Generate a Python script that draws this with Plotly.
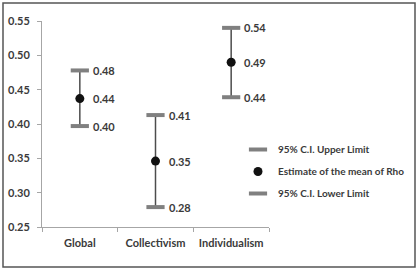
import plotly.graph_objects as go

categories = ["Global", "Collectivism", "Individualism"]
upper = [0.478, 0.413, 0.540]
mean = [0.437, 0.346, 0.490]
lower = [0.397, 0.279, 0.439]
upper_labels = ["0.48", "0.41", "0.54"]
mean_labels = ["0.44", "0.35", "0.49"]
lower_labels = ["0.40", "0.28", "0.44"]
yticks = [0.25, 0.30, 0.35, 0.40, 0.45, 0.50, 0.55]

FONT = "Lato"
TXT = "#3a3a3a"
GRAY = "#808080"
FS = 11

fig = go.Figure()

# high-low lines
fig.add_trace(go.Scatter(
    x=categories, y=mean, mode="markers",
    marker=dict(size=1, color="rgba(0,0,0,0)"),
    error_y=dict(type="data", symmetric=False,
                 array=[u - m for u, m in zip(upper, mean)],
                 arrayminus=[m - l for m, l in zip(mean, lower)],
                 width=0, thickness=1.5, color="#4d4d4d"),
    showlegend=False, hoverinfo="skip"))

fig.add_trace(go.Scatter(
    x=categories, y=upper, mode="markers", name="95% C.I. Upper Limit",
    legendgroup="u",
    marker=dict(symbol="line-ew", size=13, line=dict(width=4, color=GRAY), color=GRAY)))

fig.add_trace(go.Scatter(
    x=categories, y=mean, mode="markers", name="Estimate of the mean of Rho",
    legendgroup="m",
    marker=dict(symbol="circle", size=9, color="#111111")))

fig.add_trace(go.Scatter(
    x=categories, y=lower, mode="markers", name="95% C.I. Lower Limit",
    legendgroup="l",
    marker=dict(symbol="line-ew", size=13, line=dict(width=4, color=GRAY), color=GRAY)))

for vals, labs in ((upper, upper_labels), (mean, mean_labels), (lower, lower_labels)):
    for c, v, t in zip(categories, vals, labs):
        fig.add_annotation(x=c, y=v, text=t, showarrow=False, xanchor="left",
                           xshift=11, yshift=0,
                           font=dict(family=FONT, size=FS, color=TXT, weight="bold"))

pw, ph = 227, 206
fig.add_shape(type="rect", xref="paper", yref="paper",
              x0=(3 - 42) / pw, x1=(415 - 42) / pw,
              y0=(227 - 267) / ph, y1=(227 - 3) / ph,
              line=dict(color="#555555", width=1.5), layer="below")

fig.update_layout(
    width=420, height=272,
    margin=dict(l=42, r=151, t=21, b=45, autoexpand=False),
    paper_bgcolor="white", plot_bgcolor="white",
    font=dict(family=FONT, size=FS, color=TXT, weight="bold"),
    showlegend=True,
    legend=dict(x=(238 - 42) / pw, xanchor="left", y=(227 - 135) / ph, yanchor="top",
                bgcolor="rgba(0,0,0,0)", traceorder="grouped", tracegroupgap=3,
                font=dict(family=FONT, size=10, color=TXT, weight="bold")),
    xaxis=dict(type="category", range=[-0.5, 2.5], showgrid=False, automargin=False,
               showline=True, linecolor="#a6a6a6", linewidth=1,
               ticks="outside", tickson="boundaries", ticklen=4, tickcolor="#a6a6a6",
               ticklabelstandoff=6),
    yaxis=dict(range=[0.25, 0.55], tickvals=yticks, tickformat=".2f", showgrid=False,
               automargin=False,
               showline=True, linecolor="#a6a6a6", linewidth=1,
               ticks="outside", ticklen=4, tickcolor="#a6a6a6", zeroline=False,
               ticklabelstandoff=5),
)

fig.write_html("out.html", config={"displayModeBar": False},
               post_script="document.body.style.margin='0';document.body.style.overflow='hidden';")
